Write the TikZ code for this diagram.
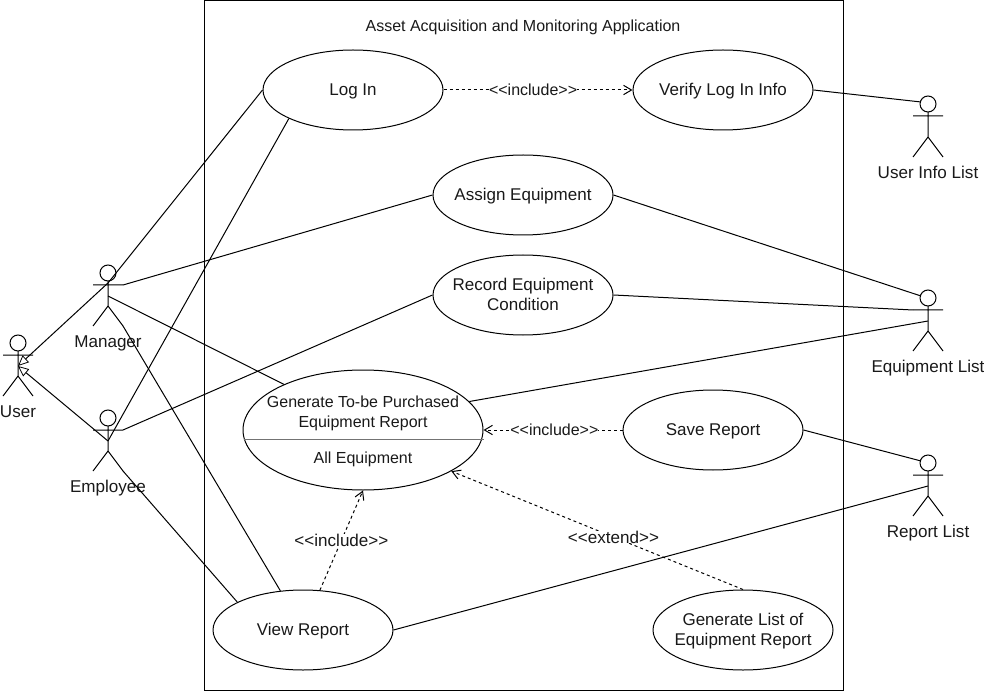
\documentclass[tikz,border=0pt]{standalone}
\usepackage{fontspec}
\setmainfont{Liberation Sans}
\usetikzlibrary{arrows.meta,shapes.geometric}
\tikzset{
  every node/.style={font=\fontsize{12}{15}\selectfont,text=black!90},
  usecase/.style={draw=black,ellipse,inner sep=-30pt,minimum width=135pt,minimum height=60pt,line width=.75pt,font=\fontsize{12.75}{15}\selectfont},
  bigcase/.style={usecase,minimum width=180pt,minimum height=90pt},
  conn/.style={draw=black,line width=.75pt},
  dep/.style={conn,dashed,dash pattern=on 2.25pt off 2.25pt,-{Straight Barb[length=6pt,width=7pt,line width=.75pt]}},
  gen/.style={conn,-{Triangle[open,length=8pt,width=7pt,line width=.6pt,fill=white]}},
  lbl/.style={fill=white,inner sep=0pt,font=\fontsize{12}{15}\selectfont},
  lblbig/.style={lbl,font=\fontsize{12.8}{15}\selectfont},
  actorlabel/.style={inner sep=0pt,anchor=base,font=\fontsize{12.8}{15}\selectfont},
  actorline/.style={draw=black,line width=.75pt},
}
\newcommand{\dopen}{<\kern0pt<}
\newcommand{\dclose}{>\kern0pt>}
\newcommand{\uc}[1]{\raisebox{0pt}[\dimexpr\height+2pt\relax][\depth]{\begin{tabular}{@{}c@{}}#1\end{tabular}}}
\newcommand{\stickman}[4]{%
  \coordinate (#1) at (#2,#3);
  \coordinate (#1Neck) at (#2,#3-15);
  \coordinate (#1Head) at (#2,#3-23);
  \coordinate (#1HeadW) at (#2-7,#3-25);
  \coordinate (#1Hip) at (#2,#3+10);
  \coordinate (#1ArmL) at (#2-15,#3-11);
  \coordinate (#1ArmR) at (#2+15,#3-11);
  \coordinate (#1LegL) at (#2-15,#3+30);
  \coordinate (#1LegR) at (#2+15,#3+30);
  \draw[actorline] (#1Head) circle[radius=8];
  \draw[actorline] (#1Neck) -- (#1Hip) (#1ArmL) -- (#1ArmR) (#1LegL) -- (#1Hip) -- (#1LegR);
  \node[actorlabel] (#1Label) at (#2,#3+51.5) {#4};
}
\begin{document}
\begin{tikzpicture}[x=.75pt,y=-.75pt]
\useasboundingbox (0,0) rectangle (984,691);
\draw[conn] (204,0.5) rectangle (843,690);
\node[inner sep=0pt] (title) at (523,27) {Asset Acquisition and Monitoring Application};

\stickman{usr}{18}{366}{User}
\stickman{mgr}{108}{296}{Manager}
\stickman{emp}{108}{441}{Employee}
\stickman{inf}{928}{127}{User Info List}
\stickman{eql}{928}{321}{Equipment List}
\stickman{rep}{928}{486}{Report List}

\node[usecase] (login) at (353,90) {\uc{Log In}};
\node[usecase] (verify) at (723,90) {\uc{Verify Log In Info}};
\node[usecase] (assign) at (523,195) {\uc{Assign Equipment}};
\node[usecase] (record) at (523,295) {\uc{Record Equipment\\Condition}};
\node[bigcase] (gen) at (363,430) {};
\node[inner sep=0pt,align=center] (genText) at (363,413) {Generate To-be Purchased\\Equipment Report};
\node[inner sep=0pt] (genSub) at (363,459) {All Equipment};
\draw[draw=black!55,line width=.75pt] (gen.west |- 0,439) ++(1,0) coordinate (sepL) -- (sepL -| gen.east);
\node[usecase] (save) at (713,430) {\uc{Save Report}};
\node[usecase] (view) at (303,630) {\uc{View Report}};
\node[usecase] (list) at (743,630) {\uc{Generate List of\\Equipment Report}};

\draw[conn] (mgrNeck) ++(0,2) -- (login.west);
\draw[conn] (mgrArmR) -- (assign.west);
\draw[conn] (mgr) -- (gen.150.5);
\draw[conn] (mgrLegR) -- (view.120);
\draw[conn] (emp) -- (login.204);
\draw[conn] (empArmR) -- (record.west);
\draw[conn] (empLegR) -- (view.157);
\draw[gen] (mgrNeck) ++(0,2) -- (usr);
\draw[gen] (emp) -- (usr);

\draw[conn] (verify.east) -- (infHeadW);
\draw[conn] (assign.east) -- (eqlHeadW);
\draw[conn] (record.east) -- (eqlArmL);
\draw[conn] (gen.15) -- (eql);
\draw[conn] (save.east) -- (repHeadW);
\draw[conn] (view.east) -- (rep);

\draw[dep] (login.east) -- node[lbl,pos=.474] (l1) {\dopen include\dclose} (verify.west);
\draw[dep] (save.west) -- node[lbl,pos=.49] (l2) {\dopen include\dclose} (gen.east);
\draw[dep] (view.67) -- node[lblbig] (l3) {\dopen include\dclose} (gen.south);
\draw[dep] (list.north) -- node[lblbig,pos=.444] (l4) {\dopen extend\dclose} (gen.-25.8);
\end{tikzpicture}
\end{document}
